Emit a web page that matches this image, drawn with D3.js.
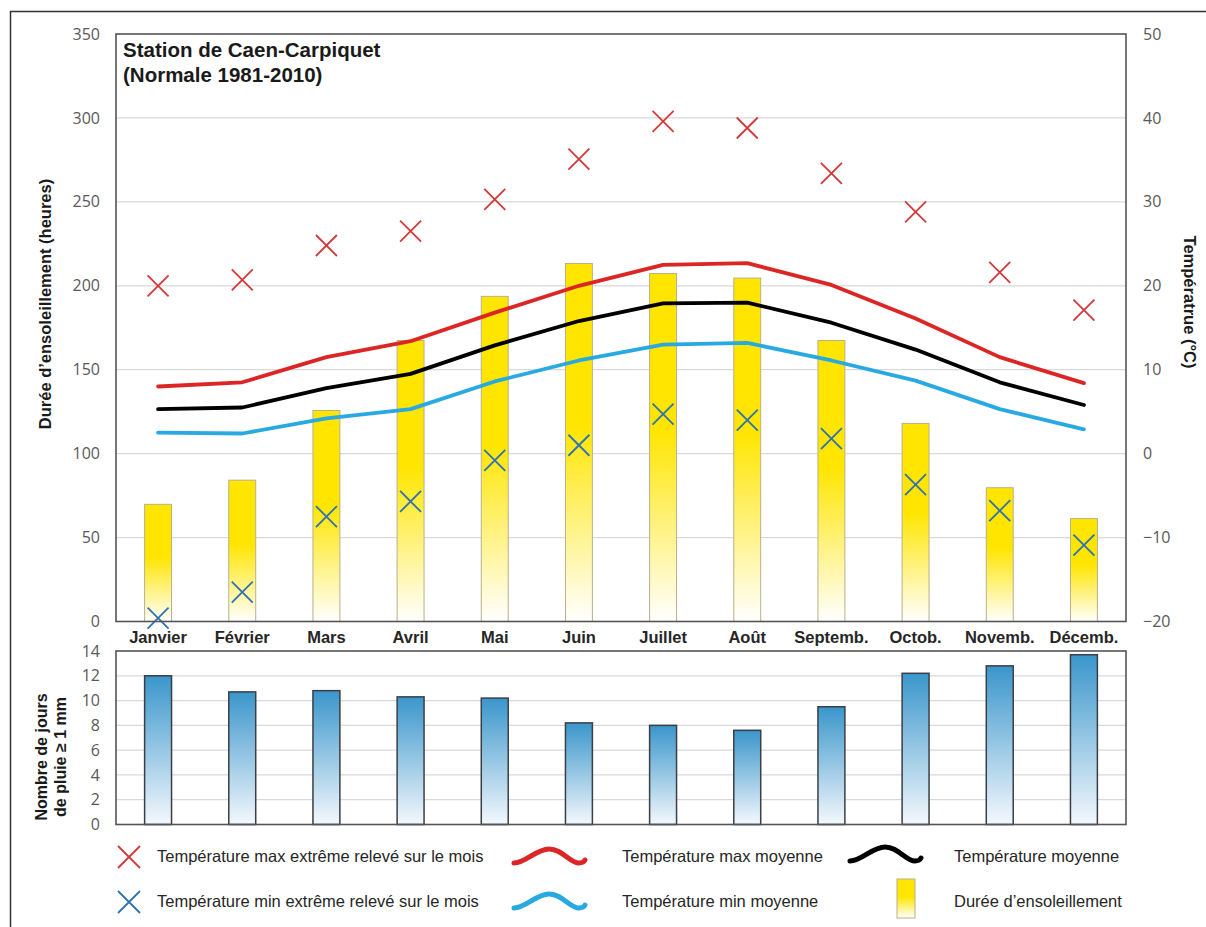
<!DOCTYPE html>
<html><head><meta charset="utf-8">
<script src="https://cdn.jsdelivr.net/npm/d3@7"></script>
<style>body{margin:0;background:#fff}svg{display:block}</style>
</head><body>
<script>
const months = ["Janvier","Février","Mars","Avril","Mai","Juin","Juillet","Août","Septemb.","Octob.","Novemb.","Décemb."];
const sunshine = [69.8, 84.2, 125.7, 167.4, 193.7, 213.3, 207.3, 204.6, 167.4, 118.0, 79.7, 61.3];
const tMaxExtreme = [20.0, 20.7, 24.8, 26.5, 30.3, 35.1, 39.6, 38.8, 33.4, 28.8, 21.6, 17.1];
const tMinExtreme = [-19.6, -16.5, -7.5, -5.7, -0.8, 1.0, 4.7, 4.0, 1.8, -3.7, -6.8, -10.9];
const tMaxMean = [8.0, 8.5, 11.5, 13.4, 16.8, 20.0, 22.5, 22.7, 20.1, 16.1, 11.5, 8.4];
const tMean = [5.3, 5.5, 7.8, 9.5, 12.9, 15.8, 17.9, 18.0, 15.6, 12.4, 8.5, 5.8];
const tMinMean = [2.5, 2.4, 4.2, 5.3, 8.6, 11.1, 13.0, 13.2, 11.1, 8.7, 5.3, 2.9];
const rainDays = [12.0, 10.7, 10.8, 10.3, 10.2, 8.2, 8.0, 7.6, 9.5, 12.2, 12.8, 13.7];
const sunTicks = [0, 50, 100, 150, 200, 250, 300, 350];
const tempTicks = [-20, -10, 0, 10, 20, 30, 40, 50];
const rainTicks = [0, 2, 4, 6, 8, 10, 12, 14];
const titleLines = ["Station de Caen-Carpiquet", "(Normale 1981-2010)"];

const W = 1206, H = 927;
const svg = d3.select("body").append("svg").attr("width", W).attr("height", H);
const defs = svg.append("defs");
const gy = defs.append("linearGradient").attr("id","gy").attr("x1",0).attr("y1",0).attr("x2",0).attr("y2",1);
gy.append("stop").attr("offset","0%").attr("stop-color","#ffe500");
gy.append("stop").attr("offset","45%").attr("stop-color","#ffe500");
gy.append("stop").attr("offset","100%").attr("stop-color","#ffffff");
const gb = defs.append("linearGradient").attr("id","gb").attr("x1",0).attr("y1",0).attr("x2",0).attr("y2",1);
gb.append("stop").attr("offset","0%").attr("stop-color","#3a96cb");
gb.append("stop").attr("offset","100%").attr("stop-color","#f4f8fd");

// outer frame
svg.append("rect").attr("x",10.5).attr("y",11.5).attr("width",1220).attr("height",940)
  .attr("fill","none").attr("stroke","#333").attr("stroke-width",1.5);

const L = 116, R = 1126, T = 34, B = 621.5;
const x = d3.scaleBand().domain(months).range([L, R]).paddingInner(0.68).paddingOuter(0.34);
const xc = m => x(m) + x.bandwidth()/2;
const ySun = d3.scaleLinear().domain([0,350]).range([B, T]);
const yT = d3.scaleLinear().domain([-20,50]).range([B, T]);

const tickFont = "'Open Sans', 'DejaVu Sans', sans-serif";
const bf = "'Liberation Sans', Arial, sans-serif";
// grid
svg.append("g").selectAll("line").data(sunTicks.slice(1,-1)).join("line")
  .attr("x1",L).attr("x2",R).attr("y1",d=>ySun(d)).attr("y2",d=>ySun(d))
  .attr("stroke","#d9d9d9").attr("stroke-width",1.2);

// left axis
const axL = svg.append("g").attr("transform",`translate(${L},0)`)
  .call(d3.axisLeft(ySun).tickValues(sunTicks).tickSize(0).tickPadding(16));
axL.select(".domain").remove();
axL.selectAll("text").attr("font-family",tickFont).attr("font-size",16).attr("fill","#595959");
// right axis
const axR = svg.append("g").attr("transform",`translate(${R},0)`)
  .call(d3.axisRight(yT).tickValues(tempTicks).tickSize(0).tickPadding(17));
axR.select(".domain").remove();
axR.selectAll("text").attr("font-family",tickFont).attr("font-size",16).attr("fill","#595959");

// sunshine bars
svg.append("g").selectAll("rect").data(months).join("rect")
  .attr("x",d=>x(d)).attr("width",x.bandwidth())
  .attr("y",(d,i)=>ySun(sunshine[i])).attr("height",(d,i)=>B-ySun(sunshine[i]))
  .attr("fill","url(#gy)").attr("stroke","#b8b08a").attr("stroke-width",1);

// lines
const lineGen = arr => d3.line().x((d,i)=>xc(months[i])).y(d=>yT(d))(arr);
[[tMinMean,"#29a9e1"],[tMean,"#000000"],[tMaxMean,"#dc2626"]].forEach(([arr,c])=>{
  svg.append("path").attr("d",lineGen(arr)).attr("fill","none").attr("stroke",c)
    .attr("stroke-width",3.8).attr("stroke-linejoin","round").attr("stroke-linecap","round");
});

// X markers
function cross(g, cx, cy, color, s=10.5){
  g.append("path").attr("d",`M${cx-s},${cy-s}L${cx+s},${cy+s}M${cx-s},${cy+s}L${cx+s},${cy-s}`)
   .attr("stroke",color).attr("stroke-width",1.8).attr("fill","none");
}
const mk = svg.append("g");
tMaxExtreme.forEach((v,i)=>cross(mk, xc(months[i]), yT(v), "#d23a3a"));
tMinExtreme.forEach((v,i)=>cross(mk, xc(months[i]), yT(v), "#2f72b0"));

// plot border
svg.append("rect").attr("x",L).attr("y",T).attr("width",R-L).attr("height",B-T)
  .attr("fill","none").attr("stroke","#555").attr("stroke-width",1.6);

// month labels
svg.append("g").selectAll("text").data(months).join("text")
  .attr("x",d=>xc(d)).attr("y",643).attr("text-anchor","middle")
  .attr("font-family",bf).attr("font-weight","bold")
  .attr("font-size",16.5).attr("fill","#262626").text(d=>d);

// title
svg.append("g").selectAll("text").data(titleLines).join("text")
  .attr("x",123).attr("y",(d,i)=>57+i*25)
  .attr("font-family",bf).attr("font-weight","bold")
  .attr("font-size",20.5).attr("fill","#1a1a1a").text(d=>d);

// axis titles
svg.append("text").attr("transform",`translate(51,304) rotate(-90)`)
  .attr("text-anchor","middle").attr("font-family",bf)
  .attr("font-weight","bold").attr("font-size",16.5).attr("fill","#1a1a1a")
  .text("Durée d’ensoleillement (heures)");
svg.append("text").attr("transform",`translate(1184,302) rotate(90)`)
  .attr("text-anchor","middle").attr("font-family",bf)
  .attr("font-weight","bold").attr("font-size",16.5).attr("fill","#1a1a1a")
  .text("Températrue (°C)");

// rain chart
const T2 = 651, B2 = 824.5;
const yR = d3.scaleLinear().domain([0,14]).range([B2, T2]);
svg.append("g").selectAll("line").data(rainTicks.slice(1,-1)).join("line")
  .attr("x1",L).attr("x2",R).attr("y1",d=>yR(d)).attr("y2",d=>yR(d))
  .attr("stroke","#d9d9d9").attr("stroke-width",1.2);
const axL2 = svg.append("g").attr("transform",`translate(${L},0)`)
  .call(d3.axisLeft(yR).tickValues(rainTicks).tickSize(0).tickPadding(16));
axL2.select(".domain").remove();
axL2.selectAll("text").attr("font-family",tickFont).attr("font-size",16).attr("fill","#595959");
svg.append("g").selectAll("rect").data(months).join("rect")
  .attr("x",d=>x(d)).attr("width",x.bandwidth())
  .attr("y",(d,i)=>yR(rainDays[i])).attr("height",(d,i)=>B2-yR(rainDays[i]))
  .attr("fill","url(#gb)").attr("stroke","#3a3f45").attr("stroke-width",1.5);
svg.append("rect").attr("x",L).attr("y",T2).attr("width",R-L).attr("height",B2-T2)
  .attr("fill","none").attr("stroke","#555").attr("stroke-width",1.6);
const rt = svg.append("text").attr("transform",`translate(47,757) rotate(-90)`)
  .attr("text-anchor","middle").attr("font-family",bf)
  .attr("font-weight","bold").attr("font-size",16).attr("fill","#1a1a1a");
rt.append("tspan").attr("x",0).attr("dy",0).text("Nombre de jours");
rt.append("tspan").attr("x",0).attr("dy",19).text("de pluie ≥ 1 mm");

// legend
const leg = svg.append("g");
function ltext(xx, yy, t){
  leg.append("text").attr("x",xx).attr("y",yy).attr("font-family",bf).attr("font-size",16.5)
    .attr("fill","#262626").text(t);
}
cross(leg, 129, 857, "#d23a3a", 11);
ltext(157, 862, "Température max extrême relevé sur le mois");
cross(leg, 129, 902, "#2f72b0", 11);
ltext(157, 907, "Température min extrême relevé sur le mois");
function wave(xx, yy, color){
  leg.append("path").attr("d",`M${xx},${yy+7} C${xx+12},${yy+7} ${xx+22},${yy-7} ${xx+35},${yy-7} C${xx+48},${yy-7} ${xx+56},${yy+7} ${xx+65},${yy+7} C${xx+68},${yy+7} ${xx+70},${yy+6} ${xx+71},${yy+4}`)
    .attr("fill","none").attr("stroke",color).attr("stroke-width",5).attr("stroke-linecap","round");
}
wave(514, 856, "#dc2626");
ltext(622, 862, "Température max moyenne");
wave(514, 901, "#29a9e1");
ltext(622, 907, "Température min moyenne");
wave(850, 854, "#000000");
ltext(954, 862, "Température moyenne");
leg.append("rect").attr("x",897).attr("y",879).attr("width",18).attr("height",39)
  .attr("fill","url(#gy)").attr("stroke","#b8b08a").attr("stroke-width",1);
ltext(954, 907, "Durée d’ensoleillement");
</script>
</body></html>
